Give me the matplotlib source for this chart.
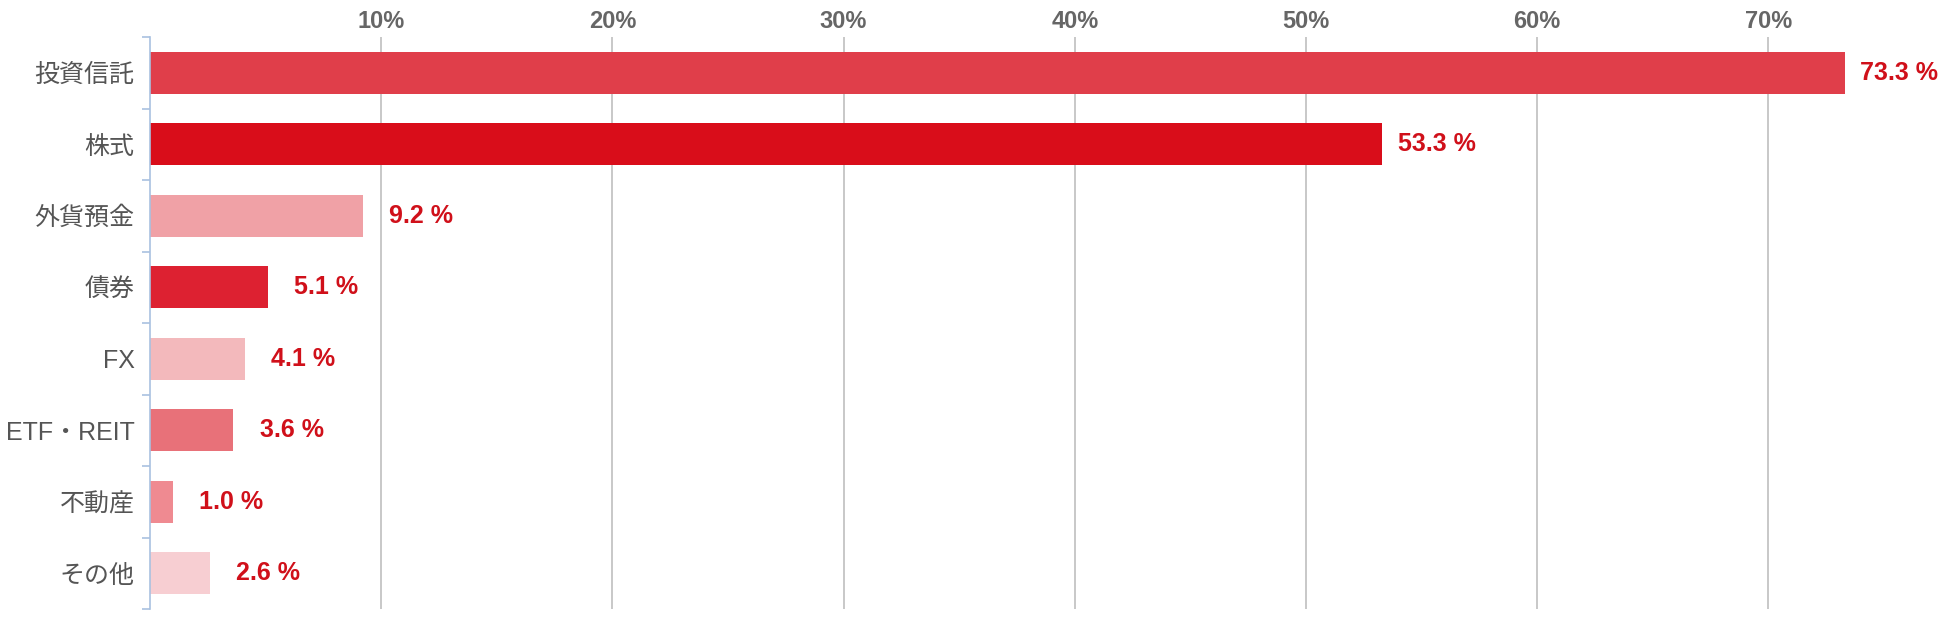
import numpy as np
import matplotlib.pyplot as plt

plt.rcParams['font.family'] = ['Liberation Sans', 'Noto Sans CJK JP', 'DejaVu Sans']

categories = ['投資信託', '株式', '外貨預金', '債券', 'FX', 'ETF・REIT', '不動産', 'その他']
values = [73.3, 53.3, 9.2, 5.1, 4.1, 3.6, 1.0, 2.6]
colors = ['#e03e4a', '#d90d1a', '#f0a1a6', '#dd2131', '#f3b9bc', '#e87179', '#ef8a91', '#f7ced2']
ticks = [10, 20, 30, 40, 50, 60, 70]
tick_labels = ['10%', '20%', '30%', '40%', '50%', '60%', '70%']
label_offsets = [11, 11, 19, 19, 19, 19, 19, 19]  # points right of bar end

fig = plt.figure(figsize=(19.5, 6.24), dpi=100)
ax = fig.add_axes([0.0769, 0.024, 0.913, 0.9165])

y = np.arange(len(categories))
ax.barh(y, values, height=0.59, color=colors, zorder=2)

for yi, v, off in zip(y, values, label_offsets):
    ax.annotate(f'{v:.1f} %', xy=(v, yi), xytext=(off, 0), textcoords='offset points',
                va='center', ha='left', fontsize=18, fontweight='bold', color='#d0101a')

ax.set_xlim(0, 77)
ax.set_ylim(len(categories) - 0.5, -0.5)

ax.xaxis.tick_top()
ax.set_xticks(ticks)
ax.set_xticklabels(tick_labels, fontsize=17, fontweight='bold', color='#666666')
ax.tick_params(axis='x', length=0, pad=3)
ax.grid(axis='x', color='#c4c4c4', linewidth=1.3, zorder=0)

ax.set_yticks(y)
ax.set_yticklabels(categories, fontsize=18, color='#555555')
ax.set_yticks(np.arange(len(categories) + 1) - 0.5, minor=True)
ax.tick_params(axis='y', which='major', length=0, pad=11)
ax.tick_params(axis='y', which='minor', length=6, color='#a9c1e0', width=1.2)

for s in ['top', 'right', 'bottom']:
    ax.spines[s].set_visible(False)
ax.spines['left'].set_color('#a9c1e0')
ax.spines['left'].set_linewidth(1.2)

fig.savefig('out.png', dpi=100)
